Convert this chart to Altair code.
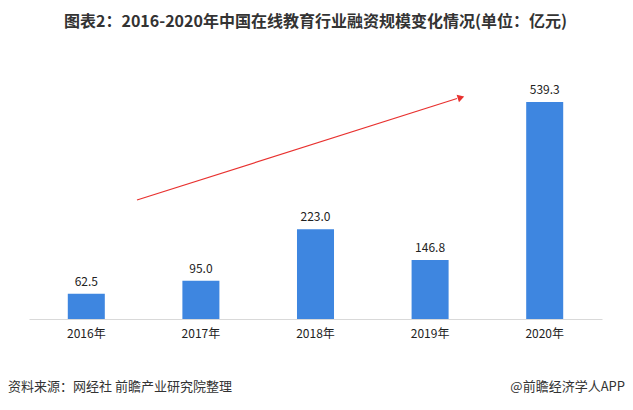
import altair as alt
import pandas as pd

years = ["2016年", "2017年", "2018年", "2019年", "2020年"]
values = [62.5, 95.0, 223.0, 146.8, 539.3]
labels = ["62.5", "95.0", "223.0", "146.8", "539.3"]

title_text = "图表2：2016-2020年中国在线教育行业融资规模变化情况(单位：亿元)"
source_text = "资料来源：网经社 前瞻产业研究院整理"
brand_text = "@前瞻经济学人APP"

df = pd.DataFrame({"year": years, "value": values, "label": labels})

FONT = "Noto Sans CJK SC"
W, H = 573, 259

x = alt.X("year:N", sort=years, title=None,
          scale=alt.Scale(paddingInner=0.677, paddingOuter=0.3385),
          axis=alt.Axis(labelAngle=0, ticks=False, domainColor="#d9d9d9",
                        labelFont=FONT, labelFontSize=12, labelColor="#222",
                        labelPadding=9))
y = alt.Y("value:Q", title=None, scale=alt.Scale(domain=[0, 643.6], nice=False),
          axis=None)

base = alt.Chart(df)
bars = base.mark_bar(color="#3E86E0").encode(x=x, y=y)
text = base.mark_text(baseline="bottom", dy=-5, font=FONT, fontSize=12, color="#222").encode(
    x=x, y=y, text="label:N")

line = alt.Chart(pd.DataFrame({"a": [0]})).mark_rule(color="#e8312f", strokeWidth=1.2).encode(
    x=alt.value(108), y=alt.value(140), x2=alt.value(428), y2=alt.value(38.5))
head = alt.Chart(pd.DataFrame({"a": [0]})).mark_point(
    shape="triangle-right", filled=True, color="#e8312f", size=60, angle=342.4, opacity=1).encode(
    x=alt.value(432), y=alt.value(37.5))

src = alt.Chart(pd.DataFrame({"t": [source_text]})).mark_text(
    align="left", baseline="middle", font=FONT, fontSize=13, color="#333").encode(
    x=alt.value(-21), y=alt.value(327), text="t:N")
brand = alt.Chart(pd.DataFrame({"t": [brand_text]})).mark_text(
    align="right", baseline="middle", font=FONT, fontSize=13, color="#333").encode(
    x=alt.value(596), y=alt.value(327), text="t:N")

chart = alt.layer(bars, text, line, head, src, brand).properties(
    width=W, height=H,
    autosize=alt.AutoSizeParams(type="none"),
    padding={"left": 21, "top": 52, "right": 23, "bottom": 83},
    title=alt.TitleParams(title_text, font=FONT, fontSize=16, fontWeight="bold",
                          color="#333", anchor="middle", offset=30),
).configure_view(stroke=None)

chart.save("out.html", embed_options={"renderer": "svg", "actions": False})
